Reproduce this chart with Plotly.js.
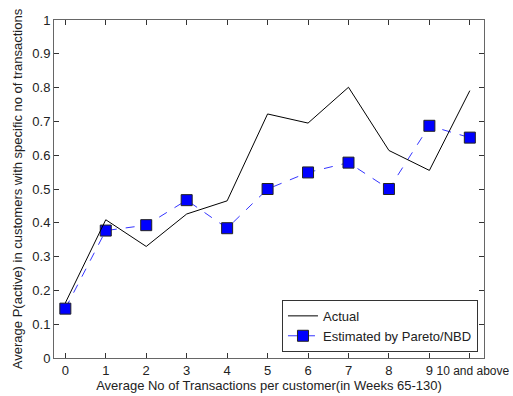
<!DOCTYPE html>
<html>
<head>
<meta charset="utf-8">
<script src="https://cdn.plot.ly/plotly-3.0.1.min.js"></script>
<style>html,body{margin:0;padding:0;background:#fff;}#chart{width:513px;height:396px;}</style>
</head>
<body>
<div id="chart"></div>
<script>
var xValues = [0, 1, 2, 3, 4, 5, 6, 7, 8, 9, 10];
var xTickLabels = ["0", "1", "2", "3", "4", "5", "6", "7", "8", "9", ""];
var lastTickValue = [10];
var lastTickLabel = ["10 and above"];
var actual = [0.163, 0.409, 0.330, 0.426, 0.465, 0.722, 0.695, 0.801, 0.614, 0.555, 0.791];
var estimated = [0.146, 0.377, 0.393, 0.467, 0.384, 0.500, 0.549, 0.578, 0.500, 0.687, 0.652];
var yTicks = [0, 0.1, 0.2, 0.3, 0.4, 0.5, 0.6, 0.7, 0.8, 0.9, 1];
var yTickLabels = ["0", "0.1", "0.2", "0.3", "0.4", "0.5", "0.6", "0.7", "0.8", "0.9", "1"];

var fam = "Liberation Sans, Arial, sans-serif";
var font = {family: fam, size: 13, color: "#222"};
var lastFont = {family: fam, size: 12, color: "#222"};
var xRange = [-0.28, 10.35];

var traces = [
  {
    x: xValues, y: actual, type: "scatter", mode: "lines", name: "Actual",
    xaxis: "x2",
    line: {color: "#000000", width: 1}
  },
  {
    x: xValues, y: estimated, type: "scatter", mode: "lines+markers", name: "Estimated by Pareto/NBD",
    line: {color: "#3535ff", width: 1, dash: "dash"},
    marker: {symbol: "square", size: 11, color: "#0000ff", line: {color: "#222", width: 1}}
  }
];

var layout = {
  width: 513, height: 396,
  margin: {l: 54, r: 29, t: 20, b: 38},
  paper_bgcolor: "#fff", plot_bgcolor: "#fff",
  font: font,
  showlegend: true,
  legend: {
    x: 0.986, y: 0.018, xanchor: "right", yanchor: "bottom",
    bgcolor: "#fff", bordercolor: "#333", borderwidth: 1,
    font: font, tracegroupgap: 0, traceorder: "normal"
  },
  xaxis: {
    range: xRange,
    tickvals: xValues, ticktext: xTickLabels, tickangle: 0,
    ticks: "inside", ticklen: 5, tickcolor: "#333",
    showline: true, linecolor: "#666", linewidth: 1, mirror: "ticks",
    showgrid: false, zeroline: false,
    tickfont: font,
    title: {text: "Average No of Transactions per customer(in Weeks 65-130)", font: font, standoff: 2}
  },
  xaxis2: {
    range: xRange, overlaying: "x", anchor: "y", side: "bottom",
    tickvals: lastTickValue, ticktext: lastTickLabel, tickangle: 0,
    ticks: "", showline: false, showgrid: false, zeroline: false,
    tickfont: lastFont, ticklabelshift: 3, ticklabelstandoff: 4
  },
  yaxis: {
    range: [0, 1],
    tickvals: yTicks, ticktext: yTickLabels,
    ticks: "inside", ticklen: 5, tickcolor: "#333",
    showline: true, linecolor: "#666", linewidth: 1, mirror: "ticks",
    showgrid: false, zeroline: false,
    tickfont: font,
    title: {text: "Average P(active) in customers with specific no of transactions", font: font, standoff: 6}
  }
};

Plotly.newPlot("chart", traces, layout, {displayModeBar: false, staticPlot: true});
</script>
</body>
</html>
